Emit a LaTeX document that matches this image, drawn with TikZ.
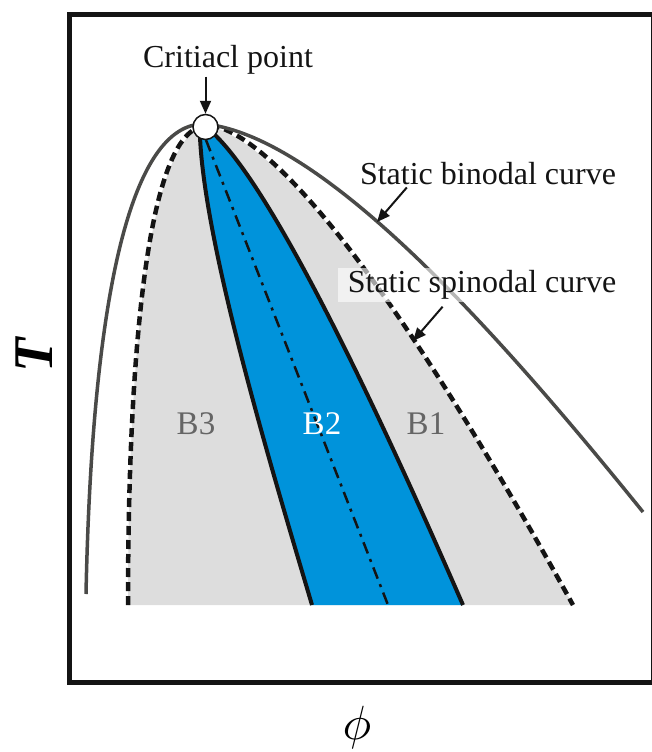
\documentclass[tikz,border=0pt]{standalone}
\usepackage{fontspec}
\setmainfont{Liberation Serif}
\usetikzlibrary{arrows.meta}
\definecolor{ink}       {HTML}{141414}
\definecolor{binline}   {HTML}{4A4A48}
\definecolor{regionbg}  {HTML}{DDDDDD}
\definecolor{regionblue}{HTML}{0093DB}
\definecolor{labelgray} {HTML}{656565}
\tikzset{
  binodal/.style={draw=binline, line width=3.5pt},
  spinodal/.style={draw=ink, line width=4.5pt, dash pattern=on 9pt off 5pt},
  bedge/.style={draw=ink, line width=4pt},
  midline/.style={draw=ink, line width=2.5pt,
                  dash pattern=on 12pt off 6pt on 3pt off 6pt},
  callout/.style={-{Triangle[length=13pt, width=11pt]}, line width=2pt, draw=ink},
  curvelabel/.style={font=\fontsize{32}{36}\selectfont, text=ink, inner sep=2pt},
  regionlabel/.style={font=\fontsize{33}{36}\selectfont, inner sep=1pt}
}

\begin{document}
\begin{tikzpicture}[x=1pt, y=-1pt,
    critpt/.style={circle, draw=ink, fill=white, line width=1.5pt,
                   minimum size=25pt, inner sep=0pt}
  ]
  \useasboundingbox (0,0) rectangle (651,752);

  % unstable regions
  \fill[regionbg] (128,605) .. controls (128,350) and (148,142) .. (205,125)
    .. controls (310,145) and (490,455) .. (573,605) -- cycle;
  \fill[regionblue] (200,137) .. controls (205,250) and (275,480) .. (312,605)
    -- (463,605) .. controls (415,495) and (285,200) .. (213,133) -- cycle;
  \draw[bedge] (200,137) .. controls (205,250) and (275,480) .. (312,605);
  \draw[bedge] (213,133) .. controls (285,200) and (415,495) .. (463,605);
  \draw[midline] (206,140) -- (388,605);

  % spinodal and binodal
  \draw[spinodal] (128,605) .. controls (128,350) and (148,142) .. (200,127);
  \draw[spinodal] (211,125) .. controls (310,145) and (490,455) .. (573,605);
  \draw[binodal] (86,594) .. controls (92,300) and (130,122) .. (205,124)
    .. controls (325,137) and (500,335) .. (643,512);

  \draw[ink, line width=5pt] (69,15) rectangle (653,682);

  \node[critpt] (cp) at (205.5,127) {};
  \node[curvelabel] (crit) at (228,60) {Critiacl point};
  \draw[callout] (crit.south -| cp) -- (cp.north);

  \node[curvelabel] (binlab) at (488,174) {Static binodal curve};
  \coordinate (binpt) at (377,222);
  \draw[callout] ([xshift=49pt]binlab.south west) -- (binpt);

  \node[curvelabel, fill=white, fill opacity=0.6, text opacity=1, inner xsep=10pt]
    (spinlab) at (482,285) {Static spinodal curve};
  \coordinate (spinpt) at (413,341);
  \draw[callout] ([xshift=105pt, yshift=-5pt]spinlab.south west) -- (spinpt);

  \node[regionlabel, text=labelgray] (b3) at (196,424) {B3};
  \node[regionlabel, text=white] (b2) at (322,424) {B2};
  \node[regionlabel, text=labelgray] (b1) at (426,424) {B1};

  \node[rotate=90, font=\fontsize{56}{60}\selectfont\bfseries\itshape] (taxis) at (34,355) {T};
  \node (phiaxis) at (357,727) {\scalebox{4.8}{$\phi$}};
\end{tikzpicture}
\end{document}
